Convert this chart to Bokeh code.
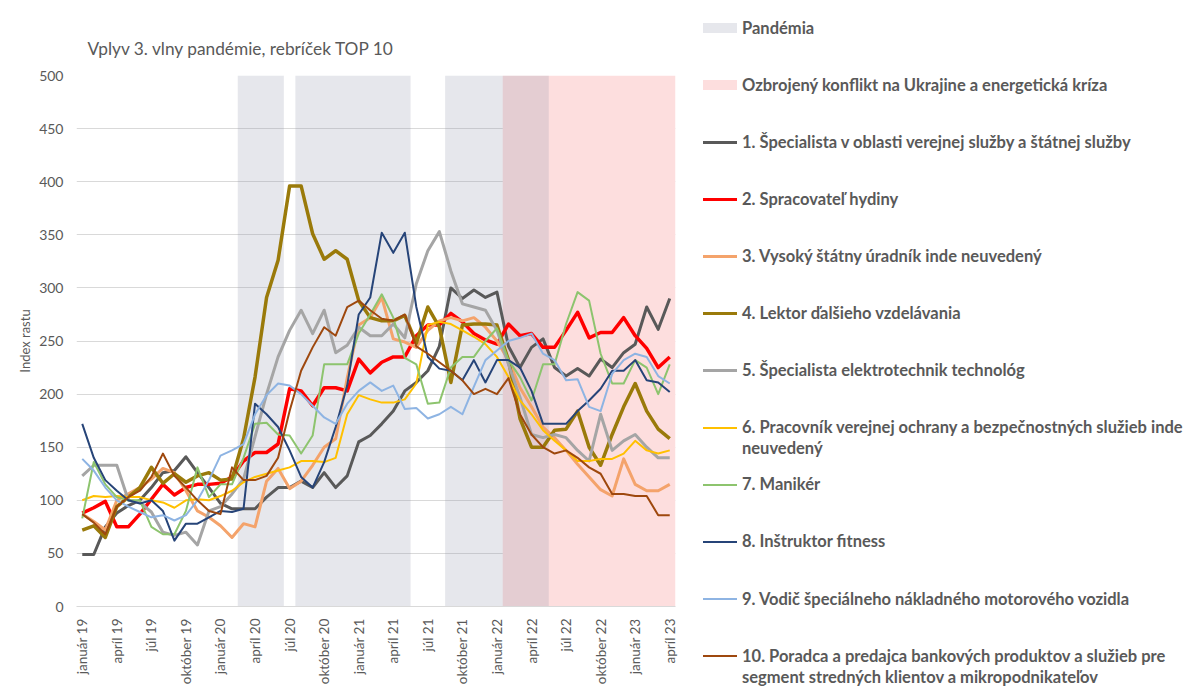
import math
from bokeh.plotting import figure
from bokeh.models import Range1d, FixedTicker, Div
from bokeh.layouts import row
from bokeh.embed import file_html
from bokeh.resources import INLINE

# ---------------- data ----------------
month_names = ["január", "február", "marec", "apríl", "máj", "jún",
               "júl", "august", "september", "október", "november", "december"]
years = ["19", "20", "21", "22", "23"]
months = [f"{m} {y}" for y in years for m in month_names][:52]   # január 19 .. apríl 23
tick_idx = list(range(0, 52, 3))
y_ticks = list(range(0, 501, 50))

title_text = "Vplyv 3. vlny pandémie, rebríček TOP 10"
y_label = "Index rastu"

band_level = 500
pandemia = [0, 0, 0, 0, 0, 0, 0, 0, 0, 0,
            0, 0, 0, 0, 1, 1, 1, 1, 0, 1,
            1, 1, 1, 1, 1, 1, 1, 1, 1, 0,
            0, 0, 1, 1, 1, 1, 1, 1, 1, 1,
            1, 0, 0, 0, 0, 0, 0, 0, 0, 0,
            0, 0]
konflikt = [0, 0, 0, 0, 0, 0, 0, 0, 0, 0,
            0, 0, 0, 0, 0, 0, 0, 0, 0, 0,
            0, 0, 0, 0, 0, 0, 0, 0, 0, 0,
            0, 0, 0, 0, 0, 0, 0, 1, 1, 1,
            1, 1, 1, 1, 1, 1, 1, 1, 1, 1,
            1, 1]
pandemia_label = "Pandémia"
konflikt_label = "Ozbrojený konflikt na Ukrajine a energetická kríza"

s1 = [49, 49, 75, 88, 95, 100, 112, 126, 128, 141, 126, 112, 97, 92, 92, 92, 103, 112, 112, 118,
      112, 126, 112, 123, 155, 161, 172, 184, 203, 211, 222, 245, 300, 290, 298, 291, 296, 245, 225, 244,
      252, 225, 217, 224, 217, 233, 225, 239, 247, 282, 261, 290]
s2 = [88, 93, 99, 75, 75, 87, 101, 115, 105, 112, 115, 115, 116, 122, 137, 145, 145, 153, 205, 203,
      189, 206, 206, 203, 233, 220, 230, 235, 235, 255, 265, 265, 276, 268, 257, 251, 247, 266, 255, 257,
      244, 244, 260, 277, 253, 258, 258, 272, 255, 243, 225, 235]
s3 = [87, 80, 72, 100, 106, 112, 120, 130, 126, 109, 90, 84, 76, 65, 78, 75, 118, 130, 111, 118,
      133, 150, 158, 215, 265, 272, 291, 252, 249, 244, 260, 269, 272, 269, 272, 263, 250, 232, 206, 188,
      169, 159, 147, 134, 122, 110, 104, 139, 115, 109, 109, 115]
s4 = [72, 76, 65, 94, 103, 112, 131, 116, 125, 117, 123, 126, 119, 120, 158, 216, 291, 326, 396, 396,
      351, 327, 335, 327, 288, 272, 269, 269, 274, 248, 282, 263, 211, 265, 266, 266, 265, 232, 177, 150,
      150, 166, 167, 184, 150, 133, 162, 188, 210, 184, 167, 158]
s5 = [123, 133, 133, 133, 100, 98, 89, 70, 67, 70, 58, 90, 94, 106, 120, 160, 200, 235, 260, 279,
      257, 279, 239, 246, 263, 255, 255, 266, 253, 304, 335, 353, 316, 285, 282, 279, 260, 228, 197, 162,
      159, 162, 159, 147, 137, 181, 147, 156, 162, 150, 140, 140]
s6 = [100, 104, 103, 104, 103, 103, 100, 98, 93, 100, 101, 100, 104, 109, 117, 122, 125, 128, 131, 137,
      137, 136, 140, 181, 199, 195, 192, 192, 195, 210, 265, 268, 266, 260, 254, 247, 235, 216, 194, 181,
      166, 156, 147, 137, 137, 139, 139, 144, 156, 147, 144, 147]
s7 = [83, 136, 115, 103, 100, 100, 75, 68, 68, 90, 131, 103, 115, 115, 140, 172, 173, 162, 161, 144,
      161, 228, 228, 228, 257, 275, 294, 272, 234, 228, 191, 192, 225, 235, 235, 250, 262, 232, 216, 194,
      228, 228, 266, 296, 288, 238, 210, 210, 232, 225, 200, 228]
s8 = [172, 140, 119, 109, 100, 97, 100, 90, 62, 78, 78, 84, 90, 89, 92, 191, 181, 169, 147, 122,
      112, 136, 169, 208, 275, 291, 352, 333, 352, 282, 235, 224, 222, 213, 232, 211, 232, 232, 225, 203,
      172, 172, 172, 184, 194, 205, 222, 222, 232, 213, 211, 202]
s9 = [139, 128, 112, 100, 94, 89, 84, 86, 81, 86, 100, 119, 142, 147, 153, 181, 199, 210, 208, 200,
      189, 178, 172, 191, 203, 211, 203, 208, 186, 187, 177, 181, 188, 181, 207, 232, 241, 250, 253, 257,
      238, 232, 213, 214, 188, 184, 219, 232, 238, 235, 217, 210]
s10 = [87, 79, 68, 94, 103, 109, 122, 144, 123, 112, 100, 90, 87, 131, 119, 119, 123, 140, 184, 222,
       244, 263, 255, 282, 288, 279, 271, 269, 275, 245, 238, 230, 222, 213, 200, 205, 200, 215, 181, 162,
       150, 144, 147, 140, 131, 125, 106, 106, 104, 104, 86, 86]

series_names = [
    "1. Špecialista v oblasti verejnej služby a štátnej služby",
    "2. Spracovateľ hydiny",
    "3. Vysoký štátny úradník inde neuvedený",
    "4. Lektor ďalšieho vzdelávania",
    "5. Špecialista elektrotechnik technológ",
    "6. Pracovník verejnej ochrany a bezpečnostných služieb inde\nneuvedený",
    "7. Manikér",
    "8. Inštruktor fitness",
    "9. Vodič špeciálneho nákladného motorového vozidla",
    "10. Poradca a predajca bankových produktov a služieb pre\nsegment stredných klientov a mikropodnikateľov",
]
series_values = [s1, s2, s3, s4, s5, s6, s7, s8, s9, s10]

# ---------------- styles ----------------
series_colors = ["#595959", "#FF0000", "#F4A36B", "#9A7A0A", "#A5A5A5",
                 "#FFC000", "#8DC46E", "#264478", "#8EB4E3", "#9E480E"]
series_widths = [3, 3.5, 3, 3.5, 3, 2, 2, 2, 2, 2]
TXT = "#595959"
FONT = "Lato"
pink = "#FDDEDE"
gray_band = "#8C93A8"
gray_alpha = 0.22
gray_swatch = "#E6E7EC"

CW, H = 690, 690           # chart figure size
LW = 510                   # legend panel width
FL, FT, FR, FB = 76, 75, 675, 606   # frame edges in page pixels

x_idx = list(range(len(months)))


def runs(flags):
    out = []
    start = None
    for i, f in enumerate(flags + [0]):
        if f and start is None:
            start = i
        if not f and start is not None:
            out.append((start, i - 1))
            start = None
    return out


# ---------------- chart ----------------
p = figure(width=CW, height=H, x_range=Range1d(-0.5, len(months) - 0.5),
           y_range=Range1d(0, 500), output_backend="svg", toolbar_location=None,
           min_border_left=FL, min_border_right=CW - FR, min_border_top=FT, min_border_bottom=H - FB,
           title=title_text)
p.background_fill_color = "white"
p.border_fill_color = "white"
p.outline_line_color = None

p.title.text_font = FONT
p.title.text_font_size = "17.3px"
p.title.text_font_style = "normal"
p.title.text_color = TXT
p.title.align = "left"
p.title.offset = 11
p.title.standoff = 34

kr = runs(konflikt)
p.quad(left=[a - 0.5 for a, b in kr], right=[b + 0.5 for a, b in kr],
       bottom=0, top=band_level, fill_color=pink, line_color=None)
pr = runs(pandemia)
p.quad(left=[a - 0.5 for a, b in pr], right=[b + 0.5 for a, b in pr],
       bottom=0, top=band_level, fill_color=gray_band, fill_alpha=gray_alpha, line_color=None)

for vals, col, w in zip(series_values, series_colors, series_widths):
    p.line(x=x_idx, y=vals, line_color=col, line_width=w, line_join="round")

p.xgrid.visible = False
p.ygrid.grid_line_color = "#D9D9D9"
p.ygrid.level = "underlay"

p.xaxis.ticker = FixedTicker(ticks=tick_idx)
p.xaxis.major_label_overrides = {i: months[i] for i in tick_idx}
p.xaxis.major_label_orientation = math.pi / 2
p.xaxis.axis_line_color = "#D9D9D9"
p.xaxis.major_tick_line_color = None
p.xaxis.minor_tick_line_color = None
p.xaxis.major_label_text_font = FONT
p.xaxis.major_label_text_font_size = "13.5px"
p.xaxis.major_label_text_color = TXT
p.xaxis.major_label_standoff = 6

p.yaxis.ticker = FixedTicker(ticks=y_ticks)
p.yaxis.axis_line_color = None
p.yaxis.major_tick_line_color = None
p.yaxis.minor_tick_line_color = None
p.yaxis.major_label_text_font = FONT
p.yaxis.major_label_text_font_size = "14px"
p.yaxis.major_label_text_color = TXT
p.yaxis.major_label_standoff = 7
p.yaxis.axis_label = y_label
p.yaxis.axis_label_text_font = FONT
p.yaxis.axis_label_text_font_size = "13px"
p.yaxis.axis_label_text_font_style = "normal"
p.yaxis.axis_label_text_color = TXT
p.yaxis.axis_label_standoff = 3

# ---------------- legend panel (HTML, to the right of the chart) ----------------
LEG_Y0, LEG_GAP, LINE_GAP = 28, 57.1, 21
SW_L, SW_W, TX = 13, 34, 52

parts = []
swatches = [(gray_swatch, 10), (pink, 10)] + [(c, w) for c, w in zip(series_colors, series_widths)]
labels = [pandemia_label, konflikt_label] + series_names
for k, (lab, (col, h)) in enumerate(zip(labels, swatches)):
    yk = LEG_Y0 + k * LEG_GAP
    parts.append(
        f'<div style="position:absolute;left:{SW_L}px;top:{yk - h / 2:.1f}px;'
        f'width:{SW_W}px;height:{h}px;background:{col};"></div>')
    html_lab = lab.replace("\n", "<br>")
    parts.append(
        f'<div style="position:absolute;left:{TX}px;top:{yk - LINE_GAP / 2:.1f}px;'
        f'font-family:{FONT},sans-serif;font-size:16.5px;font-weight:bold;line-height:{LINE_GAP}px;'
        f'color:{TXT};white-space:nowrap;">{html_lab}</div>')

legend_html = (f'<div style="position:relative;width:{LW}px;height:{H}px;background:white;">'
               + "".join(parts) + "</div>")
legend = Div(text=legend_html, width=LW, height=H, margin=0)

layout = row(p, legend)
open("out.html", "w").write(file_html(layout, INLINE))
